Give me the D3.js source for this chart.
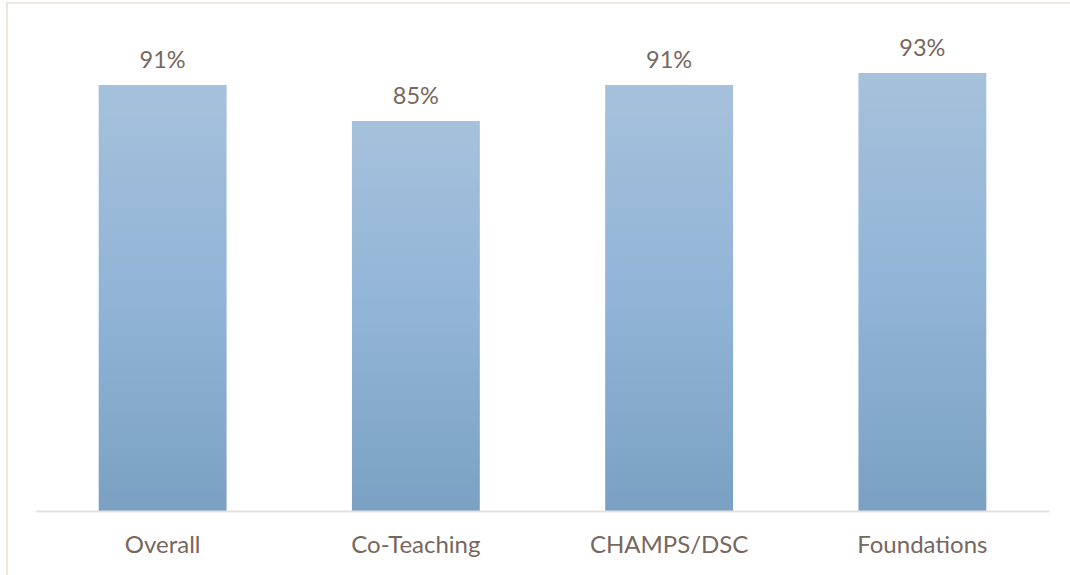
<!DOCTYPE html>
<html>
<head>
<meta charset="utf-8">
<script src="https://cdn.jsdelivr.net/npm/d3@7"></script>
<style>
  body { margin: 0; background: #fff; }
  svg { display: block; }
</style>
</head>
<body>
<svg id="chart" width="1070" height="575"></svg>
<script>
var categories = ["Overall", "Co-Teaching", "CHAMPS/DSC", "Foundations"]
var values = [91, 85, 91, 93]
var yDomain = [20, 100]

var svg = d3.select("#chart")
var textColor = "#77675e"

// frame of the chart area (cut off at the top in the original)
svg.append("path")
    .attr("d", "M7,575 V3 H1070")
    .attr("fill", "none")
    .attr("stroke", "#ece6e2")
    .attr("stroke-width", 2)

var x = d3.scaleBand()
    .domain(categories)
    .range([36, 1049])
    .paddingInner(0.495)
    .paddingOuter(0.2475)

var y = d3.scaleLinear()
    .domain(yDomain)
    .range([511, 31])

var grad = svg.append("defs").append("linearGradient")
    .attr("id", "barGrad")
    .attr("x1", 0).attr("y1", 0).attr("x2", 0).attr("y2", 1)
grad.append("stop").attr("offset", "0%").attr("stop-color", "#a6c1db")
grad.append("stop").attr("offset", "50%").attr("stop-color", "#91b4d7")
grad.append("stop").attr("offset", "100%").attr("stop-color", "#7aa1c2")

svg.selectAll("rect.bar")
    .data(values)
    .enter().append("rect")
    .attr("class", "bar")
    .attr("x", function(d, i) { return x(categories[i]) })
    .attr("y", function(d) { return y(d) })
    .attr("width", x.bandwidth())
    .attr("height", function(d) { return y(yDomain[0]) - y(d) })
    .attr("fill", "url(#barGrad)")

svg.selectAll("text.val")
    .data(values)
    .enter().append("text")
    .attr("class", "val")
    .attr("x", function(d, i) { return x(categories[i]) + x.bandwidth() / 2 })
    .attr("y", function(d) { return y(d) - 17 })
    .attr("text-anchor", "middle")
    .attr("font-family", "Lato, sans-serif")
    .attr("font-size", 23.5)
    .attr("fill", textColor)
    .text(function(d) { return d + "%" })

var xAxis = svg.append("g")
    .attr("transform", "translate(0," + y(yDomain[0]) + ")")
    .call(d3.axisBottom(x).tickSize(0).tickPadding(25))

xAxis.select(".domain")
    .attr("stroke", "#e6e0db")
    .attr("stroke-width", 2)

xAxis.selectAll("text")
    .attr("font-family", "Lato, sans-serif")
    .attr("font-size", 24)
    .attr("fill", textColor)
</script>
</body>
</html>
